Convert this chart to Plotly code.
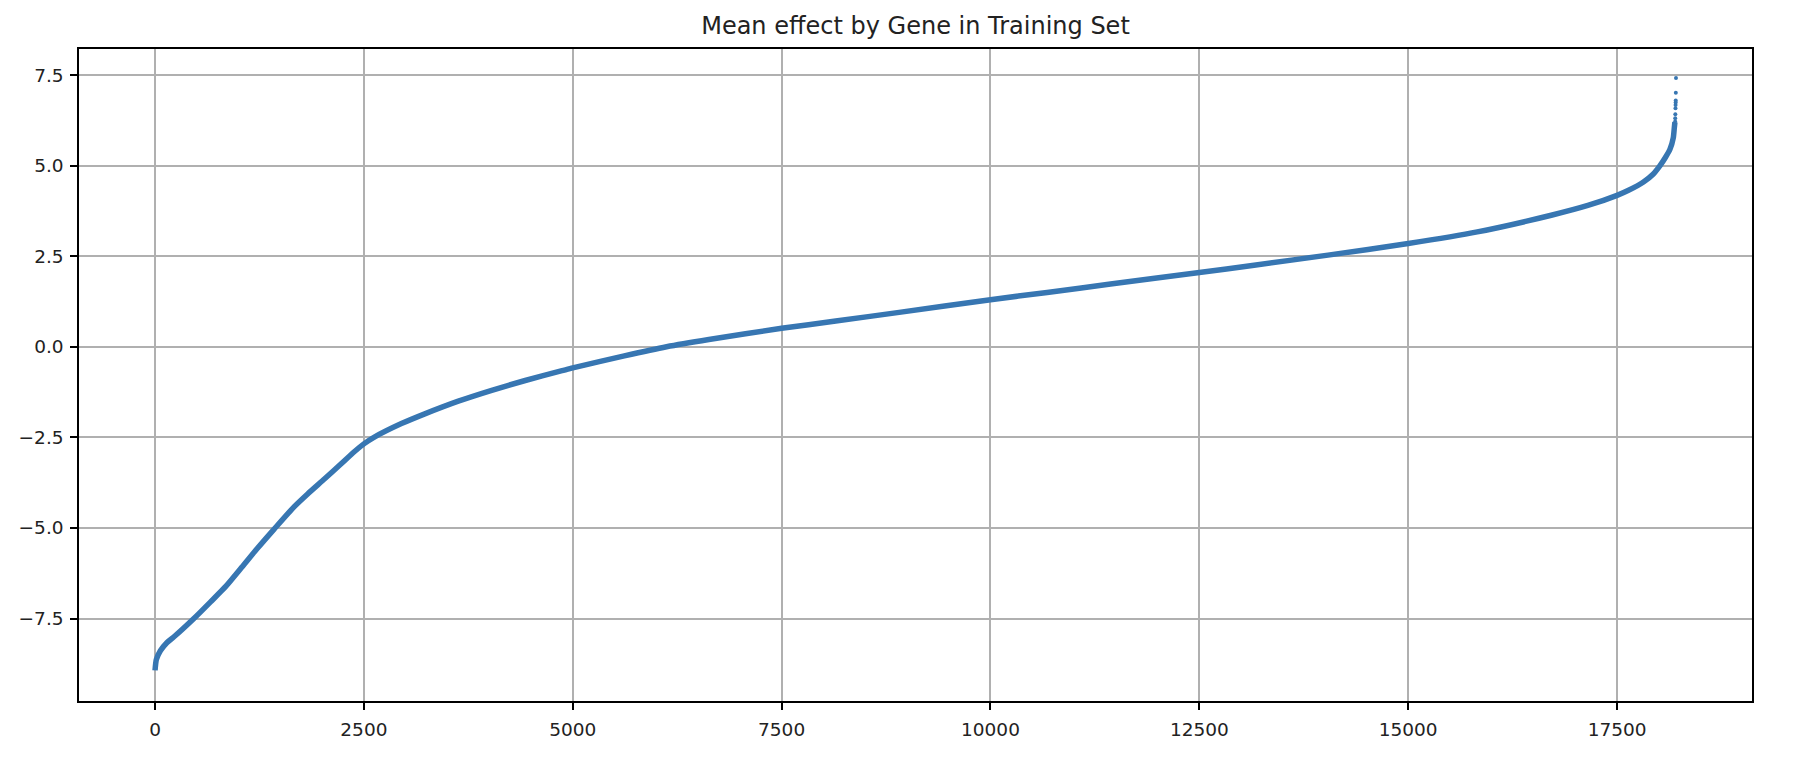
import plotly.graph_objects as go

# Sorted mean effect per gene
gene_rank = [
    0, 16, 64, 144, 224, 465, 665, 852, 1026, 1226, 1426, 1667, 1827, 2027,
    2228, 2388, 2500, 2620, 2949, 3229, 3630, 4030, 4431, 4872, 5000, 5617,
    6123, 6629, 7500, 8148, 8907, 10000, 10678, 11437, 12500, 13155, 14040,
    15000, 15827, 16712, 17150, 17500, 17637, 17816, 17934, 18014, 18080,
    18133, 18173, 18185, 18192,
]
mean_effect = [
    -8.93, -8.63, -8.39, -8.16, -8.01, -7.50, -7.04, -6.60, -6.12, -5.56,
    -5.03, -4.41, -4.06, -3.65, -3.23, -2.89, -2.68, -2.50, -2.12, -1.85,
    -1.50, -1.20, -0.93, -0.66, -0.58, -0.25, 0.00, 0.20, 0.51, 0.71, 0.95,
    1.30, 1.50, 1.73, 2.05, 2.25, 2.53, 2.85, 3.17, 3.63, 3.90, 4.18, 4.32,
    4.55, 4.77, 5.00, 5.23, 5.45, 5.77, 6.04, 6.20,
]

# the few top genes show up as separate dots
tail_rank = [18195, 18196, 18197, 18199, 18200, 18201, 18202, 18203, 18205]
tail_effect = [6.22, 6.31, 6.42, 6.58, 6.67, 6.74, 6.80, 7.01, 7.42]

x_ticks = [0, 2500, 5000, 7500, 10000, 12500, 15000, 17500]
x_labels = ["0", "2500", "5000", "7500", "10000", "12500", "15000", "17500"]
y_ticks = [-7.5, -5.0, -2.5, 0.0, 2.5, 5.0, 7.5]
y_labels = ["\u22127.5", "\u22125.0", "\u22122.5", "0.0", "2.5", "5.0", "7.5"]

blue = "#3776b2"
font = "DejaVu Sans"

fig = go.Figure()
fig.add_trace(
    go.Scatter(
        x=gene_rank,
        y=mean_effect,
        mode="lines",
        line=dict(color=blue, width=5.5, shape="spline", smoothing=0.6),
        showlegend=False,
    )
)
fig.add_trace(
    go.Scatter(
        x=tail_rank,
        y=tail_effect,
        mode="markers",
        marker=dict(color=blue, size=4),
        showlegend=False,
    )
)

axis_style = dict(
    showgrid=True,
    gridcolor="#b0b0b0",
    gridwidth=1.5,
    zeroline=False,
    showline=True,
    linecolor="#000000",
    linewidth=1.5,
    mirror=True,
    ticks="outside",
    ticklen=7,
    tickwidth=1.5,
    tickcolor="#000000",
    tickfont=dict(family=font, size=18.5, color="#222222"),
)

# the page body adds an 8px margin, so the figure is 8px smaller than the window
fig.update_layout(
    width=1800,
    height=758,
    margin=dict(l=71, r=56, t=41, b=65),
    paper_bgcolor="white",
    plot_bgcolor="white",
    title=dict(
        text="Mean effect by Gene in Training Set",
        font=dict(family=font, size=24, color="#222222"),
        x=0.5,
        xanchor="center",
        xref="paper",
        y=1,
        yref="paper",
        yanchor="bottom",
        pad=dict(b=15),
    ),
    xaxis=dict(
        range=[-910, 19115],
        tickvals=x_ticks,
        ticktext=x_labels,
        ticklabelstandoff=4,
        **axis_style,
    ),
    yaxis=dict(
        range=[-9.775, 8.218],
        tickvals=y_ticks,
        ticktext=y_labels,
        ticklabelstandoff=3,
        **axis_style,
    ),
)

fig.write_html("out.html")
